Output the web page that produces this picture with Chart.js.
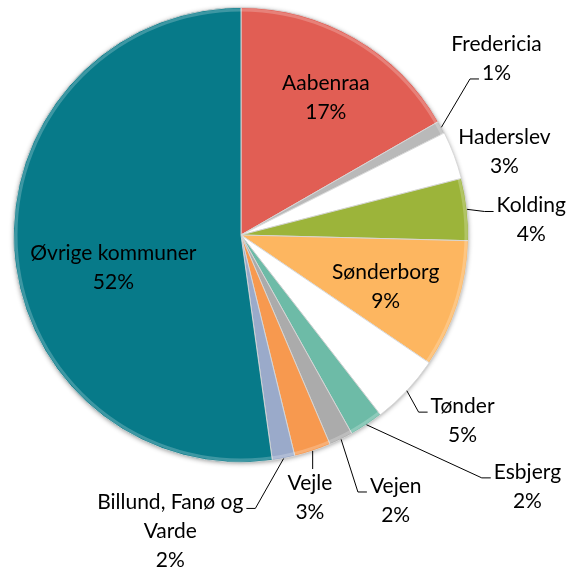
<!DOCTYPE html>
<html lang="da">
<head>
    <meta charset="UTF-8">
    <title>Fordeling pr. kommune</title>
    <script src="https://cdn.jsdelivr.net/npm/chart.js"></script>
    <style>
        html, body {
            margin: 0;
            padding: 0;
            background-color: #ffffff;
        }
        #wrap {
            width: 582px;
            height: 574px;
        }
    </style>
</head>
<body>
    <div id="wrap"><canvas id="pieChart"></canvas></div>

    <script>
        // data (shares in percent)
        const kommuner = ['Aabenraa', 'Fredericia', 'Haderslev', 'Kolding', 'Sønderborg', 'Tønder',
                          'Esbjerg', 'Vejen', 'Vejle', ['Billund, Fanø og', 'Varde'], 'Øvrige kommuner'];
        const andele = [16.7, 0.9, 3.4, 4.4, 9.1, 5.0, 2.4, 1.7, 2.6, 1.6, 52.2];
        const farver = ['#E15E54', '#B9B9B9', '#FFFFFF', '#9CB43A', '#FDB660', '#FFFFFF',
                        '#6DBBA7', '#ABABAB', '#F7994F', '#9AAACA', '#077A89'];

        // where each label sits, relative to the pie centre (in radii), and how it is tied to its slice
        const labelPos = [[0.373, -0.605], [1.123, -0.776], [1.158, -0.364], [1.276, -0.066], [0.636, 0.228],
                          [0.974, 0.816], [1.259, 1.105], [0.680, 1.167], [0.303, 1.154], [-0.311, 1.303], [-0.561, 0.145]];
        const leaderType = [null, 'left', null, 'left', null, 'left', 'left', 'left', 'top', 'right', null];
        const leaderLine = [0, 1, 0, 0, 0, 0, 0, 0, 0, 0, 0];

        const FONT = '21px Lato';
        const LINE_H = 29;

        const shadowPlugin = {
            id: 'pieShadow',
            beforeDatasetsDraw(chart) {
                const arc = chart.getDatasetMeta(0).data[0];
                if (!arc) return;
                const ctx = chart.ctx;
                ctx.save();
                ctx.shadowColor = 'rgba(0,0,0,0.45)';
                ctx.shadowBlur = 5;
                ctx.shadowOffsetY = 1;
                ctx.beginPath();
                ctx.arc(arc.x, arc.y, arc.outerRadius - 0.5, 0, Math.PI * 2);
                ctx.fillStyle = '#ffffff';
                ctx.fill();
                ctx.restore();
            },
            afterDatasetsDraw(chart) {
                // light bevel along the rim
                const arc = chart.getDatasetMeta(0).data[0];
                if (!arc) return;
                const ctx = chart.ctx;
                ctx.save();
                ctx.beginPath();
                ctx.arc(arc.x, arc.y, arc.outerRadius - 2.5, 0, Math.PI * 2);
                ctx.strokeStyle = 'rgba(255,255,255,0.22)';
                ctx.lineWidth = 3;
                ctx.stroke();
                ctx.restore();
            }
        };

        const labelPlugin = {
            id: 'sliceLabels',
            afterDatasetsDraw(chart) {
                const ctx = chart.ctx;
                const meta = chart.getDatasetMeta(0);
                ctx.save();
                ctx.font = FONT;
                ctx.fillStyle = '#000000';
                ctx.textAlign = 'center';
                ctx.textBaseline = 'middle';
                ctx.strokeStyle = '#000000';
                ctx.lineWidth = 1;

                meta.data.forEach((arc, i) => {
                    const r = arc.outerRadius;
                    const name = kommuner[i];
                    const lines = (Array.isArray(name) ? name : [name]).concat([Math.round(andele[i]) + '%']);
                    const cx = arc.x + labelPos[i][0] * r;
                    const cy = arc.y + labelPos[i][1] * r;
                    const top = cy - (lines.length - 1) * LINE_H / 2;

                    lines.forEach((txt, k) => ctx.fillText(txt, cx, top + k * LINE_H));

                    const type = leaderType[i];
                    if (!type) return;
                    const mid = (arc.startAngle + arc.endAngle) / 2;
                    const sx = arc.x + Math.cos(mid) * r;
                    const sy = arc.y + Math.sin(mid) * r;
                    const ln = leaderLine[i];
                    const w = ctx.measureText(lines[ln]).width;
                    const ly = top + ln * LINE_H;

                    ctx.beginPath();
                    ctx.moveTo(sx, sy);
                    if (type === 'top') {
                        ctx.lineTo(sx, ly - 14);
                    } else {
                        const dir = type === 'left' ? -1 : 1;
                        const ex = cx + dir * (w / 2 + 3);
                        const ey = ly + 6;
                        ctx.lineTo(ex + dir * 9, ey);
                        ctx.lineTo(ex, ey);
                    }
                    ctx.stroke();
                });
                ctx.restore();
            }
        };

        new Chart(document.getElementById('pieChart'), {
            type: 'pie',
            data: {
                labels: kommuner,
                datasets: [{
                    data: andele,
                    backgroundColor: farver,
                    borderColor: 'rgba(215,215,215,0.9)',
                    borderWidth: 1
                }]
            },
            options: {
                responsive: true,
                maintainAspectRatio: false,
                animation: false,
                layout: {
                    padding: { left: 13, right: 113, top: 7, bottom: 111 }
                },
                plugins: {
                    legend: { display: false },
                    tooltip: { enabled: false }
                }
            },
            plugins: [shadowPlugin, labelPlugin]
        });
    </script>
</body>
</html>
